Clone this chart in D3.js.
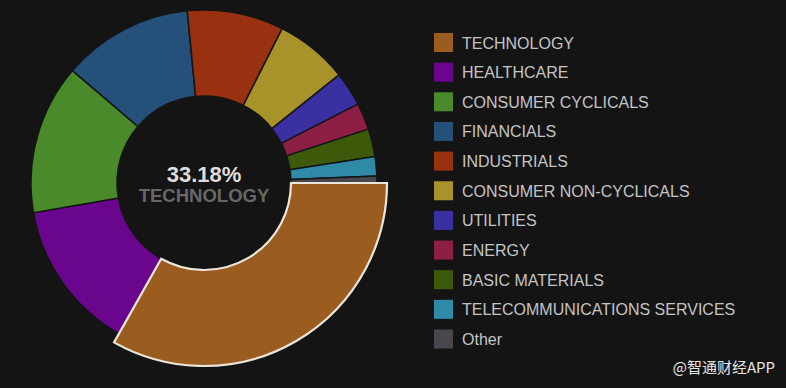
<!DOCTYPE html>
<html lang="en">
  <head>
    <meta charset="utf-8">
    <title>Sector breakdown</title>
    <script src="https://cdnjs.cloudflare.com/ajax/libs/d3/7.8.5/d3.min.js"></script>
    <style type="text/css">
      body { margin: 0; background: #141414; }
      svg { display: block; }
    </style>
  </head>
  <body>
    <script type="text/javascript">

    // sectors, in drawing order (clockwise from 3 o'clock)
    var sectors = ["TECHNOLOGY", "HEALTHCARE", "CONSUMER CYCLICALS", "FINANCIALS",
                   "INDUSTRIALS", "CONSUMER NON-CYCLICALS", "UTILITIES", "ENERGY",
                   "BASIC MATERIALS", "TELECOMMUNICATIONS SERVICES", "Other"];
    var weights = [33.18, 14.08, 14.0, 12.2, 9.0, 6.8, 3.2, 2.5, 2.6, 1.8, 0.64];
    var colors = ["#9b5c20", "#6a058e", "#4a8a2b", "#24507a", "#993110", "#a8922a",
                  "#3a30a2", "#8d1f46", "#3d5a0b", "#2f8aa7", "#47474d"];

    var w = 786;
    var h = 388;
    var cx = 204, cy = 183;
    var rOuter = 173, rInner = 87, rActive = 183;

    var svg = d3.select("body")
                .append("svg")
                .attr("width", w)
                .attr("height", h);

    svg.append("rect")
       .attr("width", w)
       .attr("height", h)
       .attr("fill", "#141414");

    var pie = d3.pie()
                .sort(null)
                .startAngle(Math.PI / 2)
                .endAngle(Math.PI / 2 + 2 * Math.PI)
                .value(function(d) { return d; });

    var arc = d3.arc().innerRadius(rInner).outerRadius(rOuter);
    var arcActive = d3.arc().innerRadius(rInner).outerRadius(rActive);

    var color = d3.scaleOrdinal().domain(sectors).range(colors);

    var arcs = pie(weights);
    var g = svg.append("g").attr("transform", "translate(" + cx + "," + cy + ")");

    // other slices first, highlighted one on top
    g.selectAll("path.slice")
       .data(arcs.slice(1))
       .enter()
       .append("path")
       .attr("class", "slice")
       .attr("d", arc)
       .attr("fill", function(d, i) { return color(sectors[i + 1]); })
       .attr("stroke", "#151515")
       .attr("stroke-width", 1.5)
       .attr("stroke-linejoin", "round");

    g.append("path")
       .datum(arcs[0])
       .attr("d", arcActive)
       .attr("fill", color(sectors[0]))
       .attr("stroke", "#ece6da")
       .attr("stroke-width", 2.2)
       .attr("stroke-linejoin", "miter");

    // centre label
    var total = d3.sum(weights);
    g.append("text")
       .text(d3.format(".2f")(weights[0]) + "%")
       .attr("text-anchor", "middle")
       .attr("x", 0)
       .attr("y", -1)
       .attr("font-family", "Liberation Sans, Arial, sans-serif")
       .attr("font-weight", "bold")
       .attr("font-size", "22px")
       .attr("fill", "#dedede");

    g.append("text")
       .text(sectors[0])
       .attr("text-anchor", "middle")
       .attr("x", 0)
       .attr("y", 19)
       .attr("font-family", "Liberation Sans, Arial, sans-serif")
       .attr("font-weight", "bold")
       .attr("font-size", "18.5px")
       .attr("fill", "#686868");

    // legend
    var legendY = d3.scalePoint().domain(sectors).range([42.5, 339]);

    var legend = svg.selectAll("g.legend")
       .data(sectors)
       .enter()
       .append("g")
       .attr("class", "legend")
       .attr("transform", function(d) { return "translate(434," + legendY(d) + ")"; });

    legend.append("rect")
       .attr("x", 0)
       .attr("y", -9.5)
       .attr("width", 19)
       .attr("height", 19)
       .attr("fill", function(d) { return color(d); });

    legend.append("text")
       .text(function(d) { return d; })
       .attr("x", 28)
       .attr("y", 6)
       .attr("font-family", "Liberation Sans, Arial, sans-serif")
       .attr("font-size", "16px")
       .attr("fill", "#c4c4c4");

    // watermark
    svg.append("text")
       .text("@智通财经APP")
       .attr("x", 775)
       .attr("y", 373)
       .attr("text-anchor", "end")
       .attr("font-family", "Noto Sans CJK SC, sans-serif")
       .attr("font-size", "15px")
       .attr("fill", "#e6e6e6");

    </script>
  </body>
</html>
